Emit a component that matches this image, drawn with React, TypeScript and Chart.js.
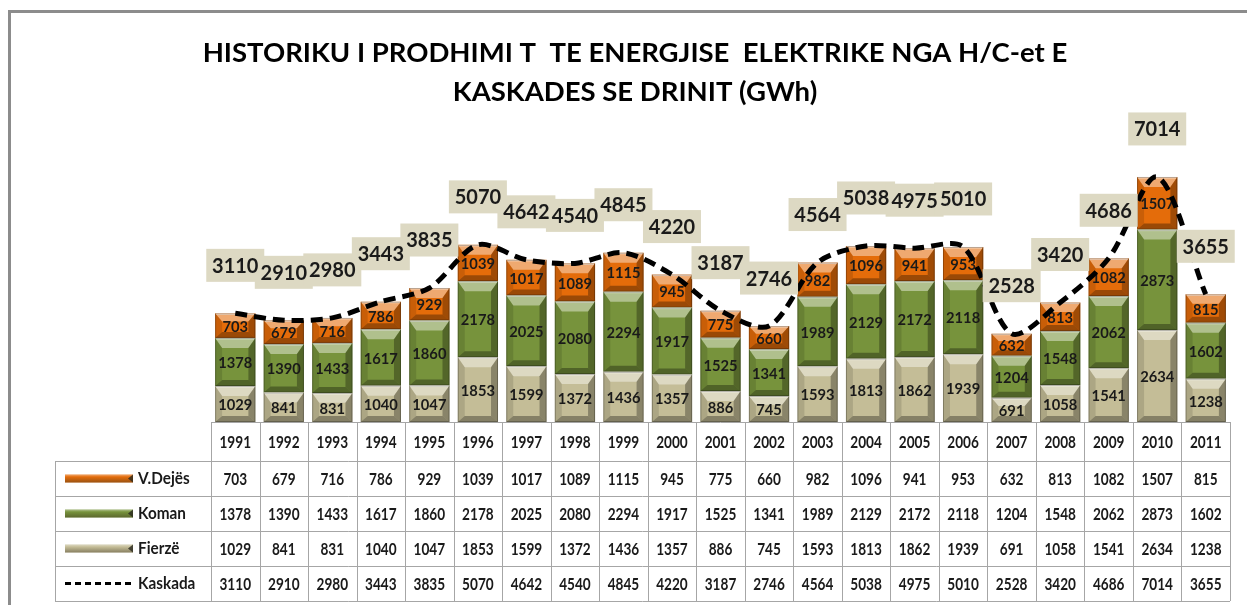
import React, { useEffect, useRef } from "react";
import { Chart, registerables } from "chart.js";

Chart.register(...registerables);

const years = ["1991","1992","1993","1994","1995","1996","1997","1998","1999","2000","2001","2002","2003","2004","2005","2006","2007","2008","2009","2010","2011"];
const vDejes = [703,679,716,786,929,1039,1017,1089,1115,945,775,660,982,1096,941,953,632,813,1082,1507,815];
const koman = [1378,1390,1433,1617,1860,2178,2025,2080,2294,1917,1525,1341,1989,2129,2172,2118,1204,1548,2062,2873,1602];
const fierze = [1029,841,831,1040,1047,1853,1599,1372,1436,1357,886,745,1593,1813,1862,1939,691,1058,1541,2634,1238];
const kaskada = [3110,2910,2980,3443,3835,5070,4642,4540,4845,4220,3187,2746,4564,5038,4975,5010,2528,3420,4686,7014,3655];

const titleLines = ["HISTORIKU I PRODHIMI T  TE ENERGJISE  ELEKTRIKE NGA H/C-et E", "KASKADES SE DRINIT (GWh)"];

const FONT = "Lato, 'Open Sans', sans-serif";
const ORANGE = "#E46C0A";
const GREEN = "#77933C";
const BEIGE = "#C4BD97";

function narrowText(ctx: any, text: string, x: number, y: number, sx: number) {
  ctx.save();
  ctx.translate(x, y);
  ctx.scale(sx, 1);
  ctx.fillText(text, 0, 0);
  ctx.restore();
}

const framePlugin = {
  id: "frame",
  beforeDraw(chart: any) {
    const ctx = chart.ctx;
    ctx.save();
    ctx.fillStyle = "#ffffff";
    ctx.fillRect(0, 0, chart.width, chart.height);
    ctx.strokeStyle = "#8C8C8C";
    ctx.lineWidth = 3;
    ctx.beginPath();
    ctx.moveTo(9.5, chart.height);
    ctx.lineTo(9.5, 11.5);
    ctx.lineTo(chart.width, 11.5);
    ctx.stroke();
    ctx.restore();
  },
};

function poly(ctx: any, pts: number[][], color: string) {
  ctx.beginPath();
  ctx.moveTo(pts[0][0], pts[0][1]);
  for (let i = 1; i < pts.length; i++) ctx.lineTo(pts[i][0], pts[i][1]);
  ctx.closePath();
  ctx.fillStyle = color;
  ctx.fill();
}

const bevelPlugin = {
  id: "bevel",
  afterDatasetDraw(chart: any, args: any) {
    const meta = args.meta;
    if (meta.type !== "bar") return;
    const ctx = chart.ctx;
    const ds = chart.data.datasets[args.index];
    ctx.save();
    meta.data.forEach((el: any, i: number) => {
      const p = el.getProps(["x", "y", "base", "width"], true);
      const l = p.x - p.width / 2;
      const r = p.x + p.width / 2;
      const t = Math.min(p.y, p.base);
      const b = Math.max(p.y, p.base);
      const h = b - t;
      const bx = Math.min(7, p.width / 4);
      const bt = Math.min(10, h / 3);
      const bb = Math.min(6, h / 4);
      poly(ctx, [[l, t], [r, t], [r - bx, t + bt], [l + bx, t + bt]], "rgba(255,255,255,0.42)");
      poly(ctx, [[l, b], [r, b], [r - bx, b - bb], [l + bx, b - bb]], "rgba(0,0,0,0.32)");
      poly(ctx, [[l, t], [l + bx, t + bt], [l + bx, b - bb], [l, b]], "rgba(0,0,0,0.12)");
      poly(ctx, [[r, t], [r - bx, t + bt], [r - bx, b - bb], [r, b]], "rgba(0,0,0,0.3)");
      ctx.fillStyle = "rgba(255,255,255,0.55)";
      ctx.fillRect(l + 1, t, r - l - 2, 1.5);
      ctx.strokeStyle = "rgba(0,0,0,0.25)";
      ctx.lineWidth = 1;
      ctx.strokeRect(l + 0.5, t + 0.5, r - l - 1, h - 1);
      ctx.fillStyle = "#1a1a1a";
      ctx.font = `bold 16px ${FONT}`;
      ctx.textAlign = "center";
      ctx.textBaseline = "middle";
      narrowText(ctx, String(ds.data[i]), p.x, (t + b) / 2 + 1, 0.92);
    });
    ctx.restore();
  },
};

const totalLabelPlugin = {
  id: "totalLabels",
  afterDraw(chart: any) {
    const idx = chart.data.datasets.findIndex((d: any) => d.type === "line");
    const meta = chart.getDatasetMeta(idx);
    const ctx = chart.ctx;
    ctx.save();
    ctx.font = `bold 20px ${FONT}`;
    ctx.textAlign = "center";
    ctx.textBaseline = "middle";
    const offset = 48;
    meta.data.forEach((pt: any) => {
      ctx.fillStyle = "#DDD9C3";
      ctx.fillRect(pt.x - 29, pt.y - offset - 16.5, 58, 33);
    });
    ctx.fillStyle = "#1a1a1a";
    meta.data.forEach((pt: any, i: number) => {
      ctx.fillText(String(kaskada[i]), pt.x, pt.y - offset + 1);
    });
    ctx.restore();
  },
};

const tablePlugin = {
  id: "dataTable",
  afterDraw(chart: any) {
    const ctx = chart.ctx;
    const area = chart.chartArea;
    const n = years.length;
    const colW = (area.right - area.left) / n;
    const top = area.bottom;
    const yearH = 39;
    const rowH = 35;
    const tableLeft = 55;
    const rows = [
      { name: "V.Dejës", values: vDejes, color: ORANGE },
      { name: "Koman", values: koman, color: GREEN },
      { name: "Fierzë", values: fierze, color: BEIGE },
      { name: "Kaskada", values: kaskada, color: null },
    ];
    const bottom = top + yearH + rowH * rows.length;
    ctx.save();
    ctx.strokeStyle = "#A6A6A6";
    ctx.lineWidth = 1;
    ctx.beginPath();
    ctx.moveTo(area.left, top + 0.5);
    ctx.lineTo(area.right, top + 0.5);
    for (let r = 0; r <= rows.length; r++) {
      const y = Math.round(top + yearH + rowH * r) + 0.5;
      ctx.moveTo(tableLeft, y);
      ctx.lineTo(area.right, y);
    }
    for (let c = 0; c <= n; c++) {
      const x = Math.round(area.left + colW * c) + 0.5;
      ctx.moveTo(x, top);
      ctx.lineTo(x, bottom);
    }
    ctx.moveTo(tableLeft + 0.5, top + yearH);
    ctx.lineTo(tableLeft + 0.5, bottom);
    ctx.stroke();

    const cellFont = `bold 17px ${FONT}`;
    ctx.fillStyle = "#1a1a1a";
    ctx.font = cellFont;
    ctx.textAlign = "center";
    ctx.textBaseline = "middle";
    const xs = chart.scales.x;
    years.forEach((yr, i) => {
      narrowText(ctx, yr, xs.getPixelForValue(i), top + yearH / 2 + 1, 0.8);
    });
    rows.forEach((row, r) => {
      const cy = top + yearH + rowH * r + rowH / 2;
      ctx.fillStyle = "#1a1a1a";
      ctx.textAlign = "center";
      ctx.font = cellFont;
      row.values.forEach((v, i) => {
        narrowText(ctx, String(v), xs.getPixelForValue(i), cy + 1, 0.8);
      });
      const sx0 = 65, sx1 = 133;
      if (row.color) {
        const g = ctx.createLinearGradient(0, cy - 4, 0, cy + 4);
        g.addColorStop(0, "rgba(255,255,255,0.9)");
        g.addColorStop(0.3, row.color);
        g.addColorStop(1, "rgba(60,50,30,1)");
        ctx.fillStyle = row.color;
        ctx.fillRect(sx0, cy - 4, sx1 - sx0, 8);
        ctx.fillStyle = g;
        ctx.globalAlpha = 0.45;
        ctx.fillRect(sx0, cy - 4, sx1 - sx0, 8);
        ctx.globalAlpha = 1;
        ctx.fillStyle = "rgba(40,40,30,0.8)";
        ctx.beginPath();
        ctx.moveTo(sx1 - 5, cy);
        ctx.lineTo(sx1, cy - 4);
        ctx.lineTo(sx1, cy + 4);
        ctx.closePath();
        ctx.fill();
      } else {
        ctx.strokeStyle = "#000";
        ctx.lineWidth = 3;
        ctx.setLineDash([6, 4]);
        ctx.beginPath();
        ctx.moveTo(sx0, cy);
        ctx.lineTo(sx1, cy);
        ctx.stroke();
        ctx.setLineDash([]);
      }
      ctx.fillStyle = "#1a1a1a";
      ctx.textAlign = "left";
      ctx.font = `bold 17px ${FONT}`;
      narrowText(ctx, row.name, 138, cy, 0.9);
    });
    ctx.restore();
  },
};

export default function App() {
  const ref = useRef<HTMLCanvasElement | null>(null);
  useEffect(() => {
    document.body.style.margin = "0";
    document.body.style.overflow = "hidden";
    if (!ref.current) return;
    const chart = new Chart(ref.current, {
      type: "bar",
      data: {
        labels: years,
        datasets: [
          { type: "bar", label: "Fierzë", data: fierze, backgroundColor: BEIGE, order: 1, barPercentage: 0.83, categoryPercentage: 1 } as any,
          { type: "bar", label: "Koman", data: koman, backgroundColor: GREEN, order: 1, barPercentage: 0.83, categoryPercentage: 1 } as any,
          { type: "bar", label: "V.Dejës", data: vDejes, backgroundColor: ORANGE, order: 1, barPercentage: 0.83, categoryPercentage: 1 } as any,
          {
            type: "line",
            label: "Kaskada",
            data: kaskada,
            borderColor: "#000000",
            borderWidth: 5,
            borderDash: [12, 7],
            tension: 0.3,
            pointRadius: 0,
            fill: false,
            order: 0,
            stack: "line",
          } as any,
        ],
      },
      options: {
        animation: false,
        responsive: false,
        devicePixelRatio: 1,
        layout: { padding: { top: 0, left: 40, right: 17, bottom: 183 } },
        plugins: {
          legend: { display: false },
          tooltip: { enabled: false },
          title: {
            display: true,
            text: titleLines,
            color: "#000000",
            font: { family: FONT, size: 27.5, weight: "bold", lineHeight: "39px" },
            padding: { top: 33.5, bottom: 31 },
          },
        },
        scales: {
          x: { stacked: true, display: false },
          y: {
            stacked: true,
            min: 0,
            max: 8000,
            display: true,
            ticks: { display: false },
            grid: { display: false },
            border: { display: false },
            afterFit: (s: any) => { s.width = 171; },
          },
        },
      } as any,
      plugins: [framePlugin, bevelPlugin, tablePlugin, totalLabelPlugin],
    });
    return () => chart.destroy();
  }, []);
  return (
    <div style={{ width: 1247, height: 605 }}>
      <canvas ref={ref} width={1247} height={605} />
    </div>
  );
}
